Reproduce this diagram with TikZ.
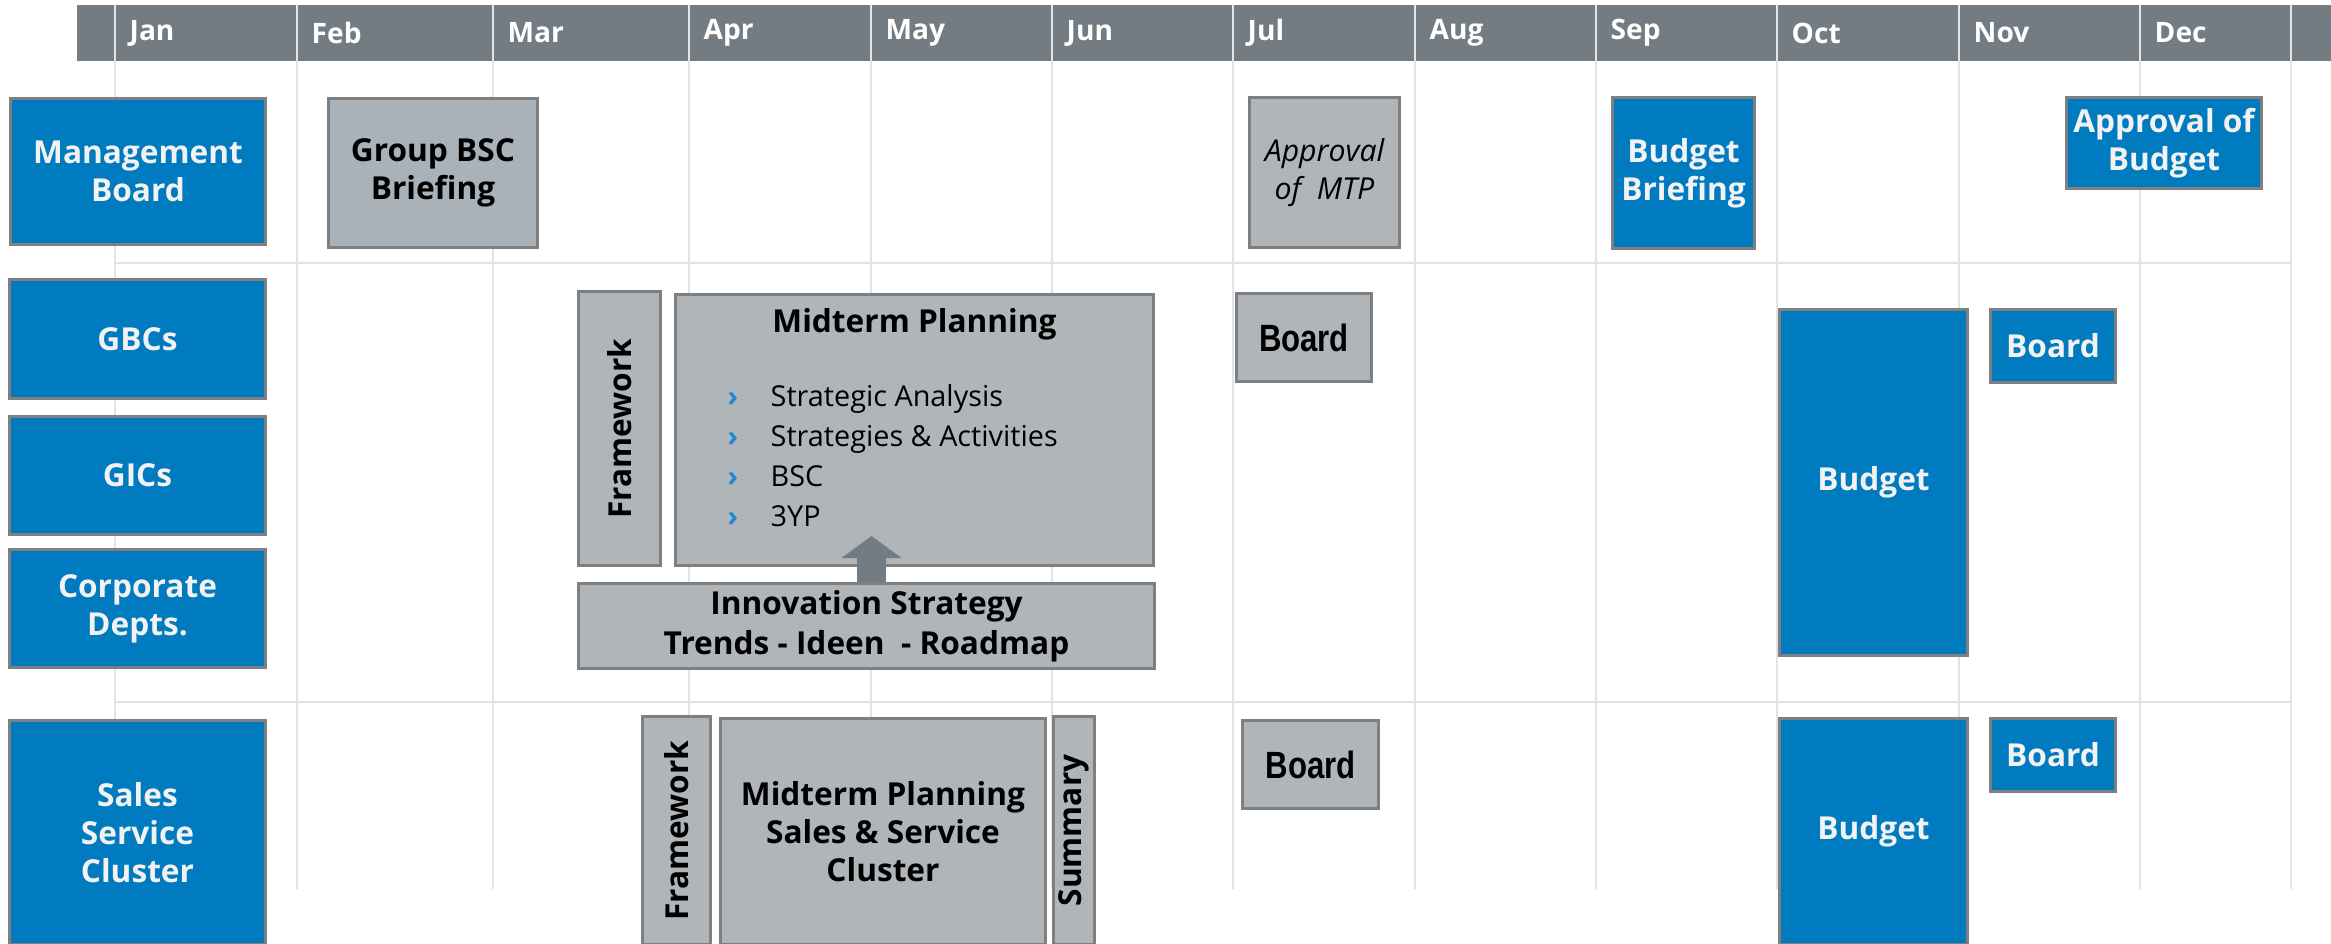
\documentclass[tikz,border=0pt]{standalone}
\usepackage{fontspec}
\setmainfont{Open Sans}
\newfontfamily\narrowfont[FakeStretch=0.82]{Liberation Sans}
\usepackage{tikz}
\usetikzlibrary{arrows.meta}

\definecolor{headgrey}{HTML}{737C83}
\definecolor{sapblue}{HTML}{007BC0}
\definecolor{boxgrey}{HTML}{AFB5B9}
\definecolor{bscgrey}{HTML}{A9B1B9}
\definecolor{boxline}{HTML}{7F7F7F}
\definecolor{gridgrey}{HTML}{E1E4E7}
\definecolor{labelwhite}{HTML}{F2F2F2}
\definecolor{bulletblue}{HTML}{1E8AD2}

\begin{document}
\begin{tikzpicture}[x=0.1mm, y=-0.1mm, font=\fontsize{9}{10.8}\selectfont\bfseries,
  planbox/.style={draw=boxline, line width=0.85pt, inner sep=0pt, align=center},
  bluebox/.style={planbox, fill=sapblue, text=labelwhite},
  greybox/.style={planbox, fill=boxgrey, text=black},
  boxsize/.style 2 args={minimum width=#1*0.1mm, minimum height=#2*0.1mm},
  monthlabel/.style={anchor=west, inner sep=0pt, text=white, font=\fontsize{8}{9}\selectfont\bfseries},
  gridline/.style={draw=gridgrey, line width=0.4pt},
  rowline/.style={draw=gridgrey, line width=0.7pt},
  itemtext/.style={anchor=base west, inner sep=0pt, font=\fontsize{8.2}{10}\selectfont},
  boardtext/.style={font=\narrowfont\fontsize{10.8}{12}\selectfont\bfseries},
  blockarrow/.style={draw=headgrey, line width=2.9mm, -{Triangle[width=5.9mm,length=2.2mm]}}]
  \useasboundingbox (0,0) rectangle (2331,943);
  \clip (0,0) rectangle (2331,943);
  % Header with months
  \fill[headgrey] (77,5) rectangle (2331,61);
  \foreach \x in {115,297,493,689,871,1052,1233,1415,1596,1777,1959,2140,2291}
    \draw[gridline] (\x,5) -- (\x,889);
  \foreach \x/\m in {115/Jan,297/Feb,493/Mar,689/Apr,871/May,1052/Jun,1233/Jul,1415/Aug,1596/Sep,1777/Oct,1959/Nov,2140/Dec}
    \node[monthlabel] (month-\m) at (\x+14,33) {\m};
  \draw[rowline] (115,263) -- (2292,263);
  \draw[rowline] (115,702) -- (2292,702);

  % Row 1: Management Board
  \node[bluebox, boxsize={255}{146}] (mb) at (138,171.5) {Management\\Board};
  \node[greybox, fill=bscgrey, boxsize={209}{149}] (gbsc) at (433,173) {Group BSC\\Briefing};
  \node[greybox, boxsize={150}{150}, font=\fontsize{8.6}{10.8}\selectfont\itshape] (amtp) at (1324.5,172.5) {Approval\\of~~MTP};
  \node[bluebox, boxsize={142}{151}] (bbrief) at (1683.5,173) {Budget\\Briefing};
  \node[bluebox, boxsize={195}{91}] (abudget) at (2164,143) {Approval of\\Budget};

  % Row 2: GBCs, GICs, Corporate Depts.
  \node[bluebox, boxsize={256}{119}] (gbc) at (137.5,339) {GBCs};
  \node[bluebox, boxsize={256}{118}] (gic) at (137.5,475.5) {GICs};
  \node[bluebox, boxsize={256}{118}] (corp) at (137.5,608.5) {Corporate\\Depts.};
  \node[greybox, rotate=90, boxsize={274}{82}] (fw) at (619.5,428.5) {Framework};
  \node[greybox, boxsize={478}{271}] (mtp) at (914.5,430) {};
  \node[anchor=base, inner sep=0pt] (mtptitle) at (914.5,332) {Midterm Planning};
  \foreach \entry [count=\i] in {Strategic Analysis, Strategies \& Activities, BSC, 3YP}
    \node[itemtext] (mtpitem\i) at (727,366+40*\i) {\makebox[4.3mm][l]{\bfseries\textcolor{bulletblue}{›}}\entry};
  \node[greybox, boxsize={576}{85}, font=\fontsize{9}{11.4}\selectfont\bfseries] (innov) at (866.5,626) {Innovation Strategy\\Trends - Ideen~~- Roadmap};
  \coordinate (arrowtip) at (871.5,536);
  \draw[blockarrow] (innov.north -| arrowtip) -- (arrowtip);
  \node[greybox, boardtext, boxsize={135}{88}] (board1) at (1304,337.5) {Board};
  \node[bluebox, boxsize={188}{346}] (budget1) at (1873.5,482.5) {Budget};
  \node[bluebox, boxsize={125}{73}] (bboard1) at (2053,346) {Board};

  % Row 3: Sales Service Cluster
  \node[bluebox, boxsize={256}{224}] (ssc) at (137.5,832.5) {Sales\\Service\\Cluster};
  \node[greybox, rotate=90, boxsize={228}{68}] (fw2) at (676.5,830.5) {Framework};
  \node[greybox, boxsize={325}{226}] (mtp2) at (883,831.5) {Midterm Planning\\Sales \& Service\\Cluster};
  \node[greybox, rotate=90, boxsize={228}{41}] (summ) at (1074,830.5) {Summary};
  \node[greybox, boardtext, boxsize={136}{88}] (board2) at (1310.5,764.5) {Board};
  \node[bluebox, boxsize={188}{226}] (budget2) at (1873.5,831.5) {Budget};
  \node[bluebox, boxsize={125}{73}] (bboard2) at (2053,755) {Board};
\end{tikzpicture}
\end{document}
